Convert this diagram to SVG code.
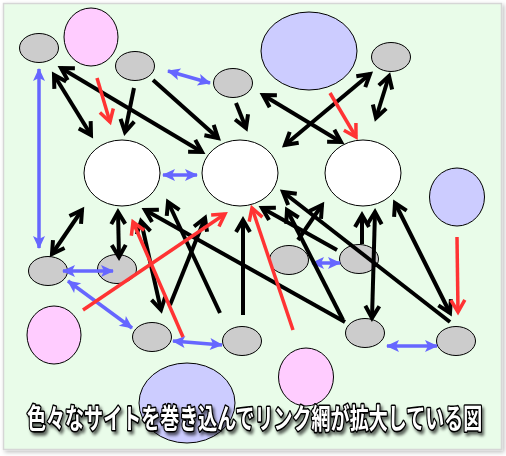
<svg xmlns="http://www.w3.org/2000/svg" width="506" height="456" viewBox="0 0 506 456">
<style>
.g{fill:#CCCCCC;stroke:#000;stroke-width:1}
.w{fill:#FFFFFF;stroke:#000;stroke-width:1}
.p{fill:#FFCCFF;stroke:#000;stroke-width:1}
.b{fill:#CCCCFF;stroke:#000;stroke-width:1}
.k{stroke:#000;stroke-width:4;fill:none}
.r{stroke:#FF3333;stroke-width:3.5;fill:none}
.u{stroke:#6666FF;stroke-width:3.5;fill:none}
.k1{marker-end:url(#mk)}
.k2{marker-start:url(#mk);marker-end:url(#mk)}
.r1{marker-end:url(#mr)}
.u2{marker-start:url(#mu);marker-end:url(#mu)}
.t{font-family:"Noto Sans CJK JP","Noto Sans CJK SC",sans-serif;font-size:28px;font-weight:bold;fill:#FFFFFF;stroke:#000;stroke-width:3.2;paint-order:stroke;stroke-linejoin:round}
</style>
<defs>
<marker id="mk" viewBox="-16 -10 20 20" markerWidth="20" markerHeight="20" refX="0" refY="0" orient="auto-start-reverse" markerUnits="userSpaceOnUse" overflow="visible"><path d="M-12,-7 L0,0 L-12,7" fill="none" stroke="#000" stroke-width="4"/></marker>
<marker id="mr" viewBox="-16 -10 20 20" markerWidth="20" markerHeight="20" refX="0" refY="0" orient="auto-start-reverse" markerUnits="userSpaceOnUse" overflow="visible"><path d="M-12,-7 L0,0 L-12,7" fill="none" stroke="#FF3333" stroke-width="3.5"/></marker>
<marker id="mu" viewBox="-14 -8 16 16" markerWidth="16" markerHeight="16" refX="0" refY="0" orient="auto-start-reverse" markerUnits="userSpaceOnUse" overflow="visible"><path d="M-12,-6 L1,0 L-12,6 L-9,0 Z" fill="#6666FF"/></marker>
<filter id="sh" x="-10%" y="-10%" width="120%" height="130%"><feDropShadow dx="2" dy="3" stdDeviation="1.5" flood-color="#000" flood-opacity="0.6"/></filter>
<filter id="fs" x="-5%" y="-5%" width="110%" height="110%"><feDropShadow dx="2" dy="2" stdDeviation="2" flood-color="#000" flood-opacity="0.25"/></filter>
</defs>
<rect x="0" y="0" width="506" height="456" fill="#FFFFFF"/>
<rect x="3.5" y="3.5" width="498" height="446" fill="#E9FCE9" stroke="#D6D6D6" stroke-width="1.5" filter="url(#fs)"/>

<g id="nodes">
<g id="n-pink1"><ellipse class="p" cx="91" cy="37" rx="27" ry="29"/></g>
<g id="n-blue1"><ellipse class="b" cx="309" cy="51" rx="48" ry="39"/></g>
<g id="n-blue2"><ellipse class="b" cx="457" cy="197" rx="27.5" ry="29"/></g>
<g id="n-pink2"><ellipse class="p" cx="54" cy="335" rx="27" ry="29"/></g>
<g id="n-blue3"><ellipse class="b" cx="187" cy="403" rx="48" ry="40"/></g>
<g id="n-pink3"><ellipse class="p" cx="306" cy="377" rx="27.5" ry="29"/></g>
<g id="n-a"><ellipse class="g" cx="39" cy="48" rx="19.5" ry="14.5"/></g>
<g id="n-b"><ellipse class="g" cx="135" cy="66" rx="19.5" ry="14.5"/></g>
<g id="n-c"><ellipse class="g" cx="233" cy="83" rx="19.5" ry="14.5"/></g>
<g id="n-f"><ellipse class="g" cx="391" cy="57" rx="19.5" ry="14.5"/></g>
<g id="n-d"><ellipse class="w" cx="122" cy="173" rx="38" ry="33"/></g>
<g id="n-e"><ellipse class="w" cx="240" cy="173" rx="38" ry="33"/></g>
<g id="n-g"><ellipse class="w" cx="363" cy="173" rx="38" ry="33"/></g>
<g id="n-h"><ellipse class="g" cx="48" cy="271" rx="19.5" ry="14.5"/></g>
<g id="n-i"><ellipse class="g" cx="117" cy="269" rx="19.5" ry="14.5"/></g>
<g id="n-l"><ellipse class="g" cx="289" cy="260" rx="19.5" ry="14.5"/></g>
<g id="n-m"><ellipse class="g" cx="359" cy="259" rx="19.5" ry="14.5"/></g>
<g id="n-j"><ellipse class="g" cx="152" cy="337" rx="19.5" ry="14.5"/></g>
<g id="n-k"><ellipse class="g" cx="242" cy="341" rx="19.5" ry="14.5"/></g>
<g id="n-n"><ellipse class="g" cx="365" cy="333" rx="19.5" ry="14.5"/></g>
<g id="n-o"><ellipse class="g" cx="456" cy="341" rx="19.5" ry="14.5"/></g>
</g>

<g id="connectors">
<line class="u u2" x1="39" y1="69" x2="39" y2="248"/>
<line class="u u2" x1="168" y1="71" x2="210" y2="83"/>
<line class="u u2" x1="163" y1="175" x2="197" y2="175"/>
<line class="u u2" x1="63" y1="271" x2="113" y2="271"/>
<line class="u u2" x1="68" y1="281" x2="132" y2="328"/>
<line class="u u2" x1="173" y1="341" x2="222" y2="345"/>
<line class="u u2" x1="312" y1="263" x2="340" y2="263"/>
<line class="u u2" x1="387" y1="346" x2="437" y2="346"/>

<line class="k k2" x1="54" y1="75" x2="91" y2="135"/>
<line class="k k2" x1="61" y1="68" x2="202" y2="152"/>
<line class="k k1" x1="134" y1="88" x2="125" y2="132"/>
<line class="k k1" x1="153" y1="80" x2="218" y2="138"/>
<line class="k k1" x1="236" y1="103" x2="246" y2="128"/>
<line class="k k2" x1="263" y1="95" x2="341" y2="142"/>
<line class="k k2" x1="370" y1="74" x2="285" y2="145"/>
<line class="k k2" x1="389" y1="76" x2="376" y2="118"/>

<line class="k k2" x1="52" y1="254" x2="82" y2="210"/>
<line class="k k2" x1="118" y1="212" x2="119" y2="257"/>
<line class="k k2" x1="141" y1="221" x2="161" y2="310"/>
<line class="k k1" x1="220" y1="313" x2="168" y2="202"/>
<line class="k k1" x1="345" y1="322" x2="145" y2="210"/>
<line class="k k1" x1="170" y1="305" x2="205" y2="218"/>
<line class="k k1" x1="243" y1="315" x2="243" y2="220"/>
<line class="k k1" x1="337" y1="250" x2="262" y2="208"/>
<line class="k k1" x1="343" y1="320" x2="287" y2="210"/>
<line class="k k1" x1="298" y1="240" x2="322" y2="205"/>
<line class="k k1" x1="450" y1="322" x2="283" y2="192"/>
<line class="k k1" x1="362" y1="244" x2="362" y2="215"/>
<line class="k k2" x1="372" y1="318" x2="375" y2="212"/>
<line class="k k2" x1="395" y1="203" x2="450" y2="313"/>

<line class="r r1" x1="97" y1="78" x2="110" y2="122"/>
<line class="r r1" x1="330" y1="93" x2="356" y2="137"/>
<line class="r r1" x1="183" y1="337" x2="133" y2="222"/>
<line class="r r1" x1="83" y1="310" x2="225" y2="214"/>
<line class="r r1" x1="293" y1="330" x2="252" y2="208"/>
<line class="r r1" x1="457" y1="237" x2="458" y2="312"/>
</g>

<g filter="url(#sh)"><text class="t" transform="translate(27,429) scale(0.68,1)" x="0" y="0">色々なサイトを巻き込んでリンク網が拡大している図</text></g>
</svg>
